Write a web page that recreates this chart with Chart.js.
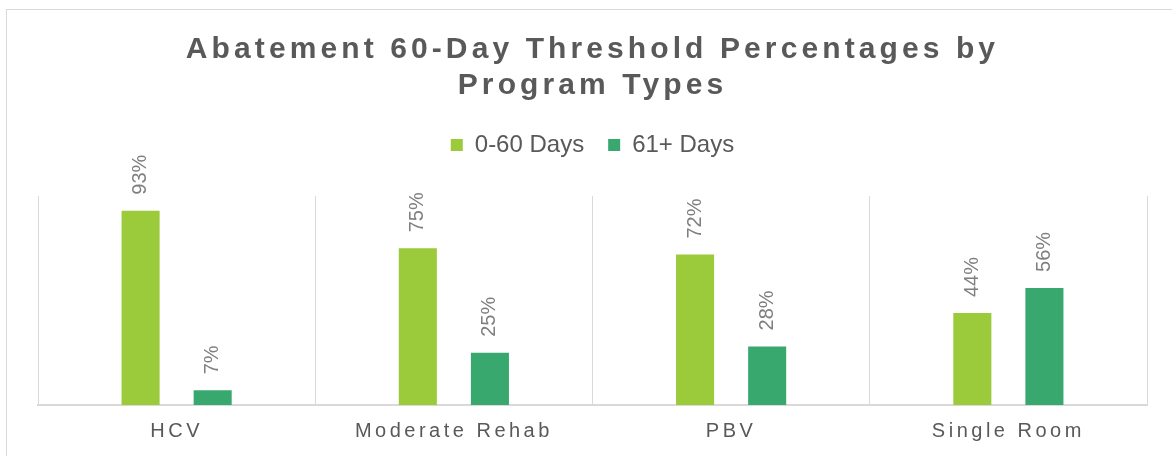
<!DOCTYPE html>
<html>
<head>
<meta charset="utf-8">
<script src="https://cdn.jsdelivr.net/npm/chart.js@4/dist/chart.umd.min.js"></script>
<style>
html,body{margin:0;padding:0;background:#fff;overflow:hidden;width:1172px;height:456px;}
#wrap{position:absolute;left:6px;top:9px;width:1180px;height:470px;border-left:1px solid #d9d9d9;border-top:1px solid #d9d9d9;background:#fff;}
canvas{display:block;}
</style>
</head>
<body>
<div id="wrap"><canvas id="c" width="1172" height="447"></canvas></div>
<script>
const categories = ['HCV', 'Moderate Rehab', 'PBV', 'Single Room'];
const seriesNames = ['0-60 Days', '61+ Days'];
const days0to60 = [93, 75, 72, 44];
const days61plus = [7, 25, 28, 56];
const titleLines = ['Abatement 60-Day Threshold Percentages by', 'Program Types'];

const FONT = "'Liberation Sans', Arial, sans-serif";

const spacingPlugin = {
  id: 'spacing',
  beforeInit(chart) {
    const lg = chart.legend;
    if (lg) {
      const origFit = lg.fit;
      lg.fit = function () { origFit.call(this); this.height += 29; };
    }
  },
  afterLayout(chart) {
    const t = chart.titleBlock;
    if (t && !t._wrapped) {
      const od = t.draw;
      t.draw = function () {
        const ctx = this.ctx; const prev = ctx.letterSpacing;
        ctx.letterSpacing = '4.1px'; od.call(this); ctx.letterSpacing = prev || '0px';
      };
      t._wrapped = true;
    }
    const x = chart.scales.x;
    if (x && !x._wrapped) {
      const dl = x.drawLabels;
      x.drawLabels = function (a) {
        const ctx = this.ctx; const prev = ctx.letterSpacing;
        ctx.letterSpacing = '3.5px'; dl.call(this, a); ctx.letterSpacing = prev || '0px';
      };
      x._wrapped = true;
    }
  },
  afterDatasetsDraw(chart) {
    const ctx = chart.ctx;
    chart.data.datasets.forEach((ds, i) => {
      const meta = chart.getDatasetMeta(i);
      meta.data.forEach((bar, j) => {
        ctx.save();
        ctx.translate(bar.x, bar.y - 16);
        ctx.rotate(-Math.PI / 2);
        ctx.font = '20px ' + FONT;
        ctx.fillStyle = '#7f7f7f';
        ctx.textAlign = 'left';
        ctx.textBaseline = 'middle';
        ctx.fillText(ds.data[j] + '%', 0, 0);
        ctx.restore();
      });
    });
  }
};

new Chart(document.getElementById('c'), {
  type: 'bar',
  data: {
    labels: categories,
    datasets: [
      { label: seriesNames[0], data: days0to60, backgroundColor: '#9bca3b', borderWidth: 0, categoryPercentage: 0.52, barPercentage: 0.528 },
      { label: seriesNames[1], data: days61plus, backgroundColor: '#38a86f', borderWidth: 0, categoryPercentage: 0.52, barPercentage: 0.528 }
    ]
  },
  options: {
    responsive: false,
    animation: false,
    devicePixelRatio: 1,
    layout: { padding: { left: 31, right: 32, top: 0, bottom: 0 } },
    plugins: {
      title: {
        display: true,
        text: titleLines,
        color: '#595959',
        font: { family: FONT, size: 30, weight: 'bold', lineHeight: 1.2 },
        padding: { top: 22, bottom: 5 }
      },
      legend: {
        display: true,
        position: 'top',
        labels: {
          color: '#595959',
          font: { family: FONT, size: 24 },
          boxWidth: 12,
          boxHeight: 12,
          padding: 24
        }
      },
      tooltip: { enabled: false }
    },
    scales: {
      x: {
        grid: { display: true, offset: true, color: '#d9d9d9', lineWidth: 1, drawTicks: false },
        border: { display: true, color: '#d9d9d9', width: 2 },
        ticks: { color: '#595959', font: { family: FONT, size: 20 }, padding: 14, maxRotation: 0 }
      },
      y: {
        display: false,
        min: 0,
        max: 100
      }
    }
  },
  plugins: [spacingPlugin]
});
</script>
</body>
</html>
